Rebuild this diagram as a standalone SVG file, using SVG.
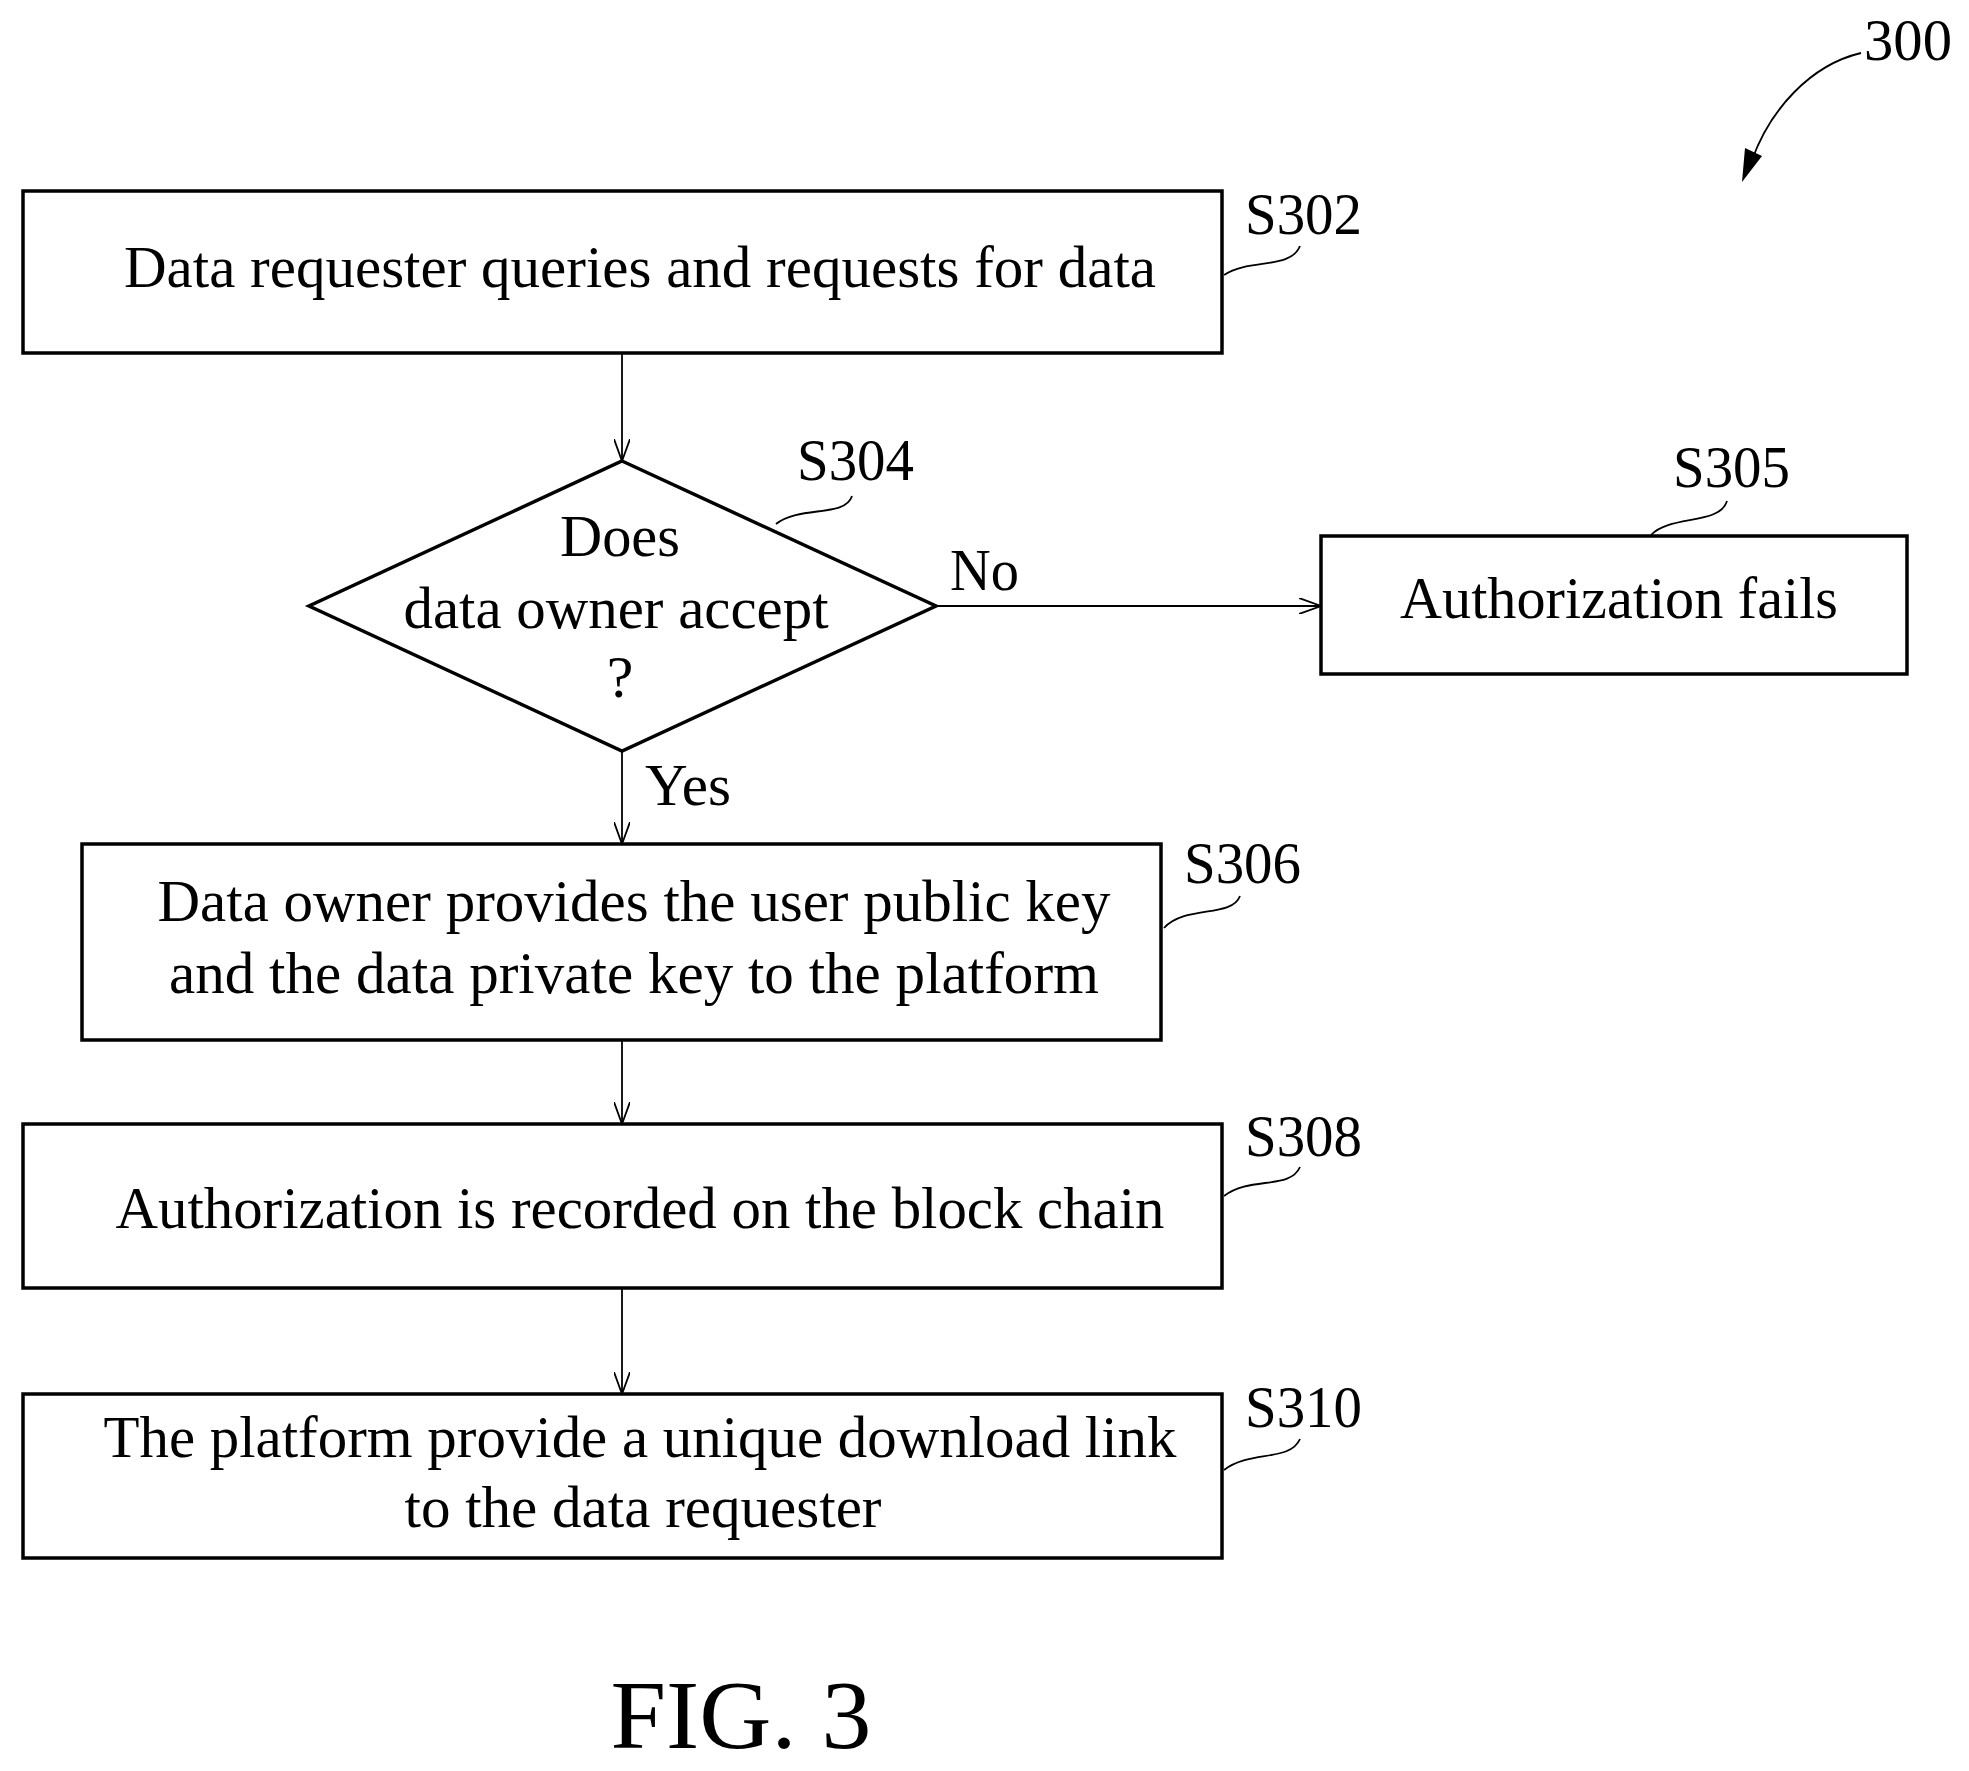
<svg xmlns="http://www.w3.org/2000/svg" width="1969" height="1771" viewBox="0 0 1969 1771">
<defs>
<style>
.b{fill:#fff;stroke:#000;stroke-width:3.5}
.l{fill:none;stroke:#000;stroke-width:1.8}
text{font-family:"Liberation Serif",serif;font-size:60px;fill:#000}
.c{text-anchor:middle}
</style>
<marker id="a" markerWidth="24" markerHeight="16" refX="22" refY="8" orient="auto" markerUnits="userSpaceOnUse"><path d="M0,0 L22,8 L0,16" fill="none" stroke="#000" stroke-width="1.8"/></marker>
</defs>
<rect width="1969" height="1771" fill="#fff"/>
<g id="connectors">
<line class="l" x1="622" y1="353" x2="622" y2="461" marker-end="url(#a)"/>
<line class="l" x1="936" y1="606" x2="1321" y2="606" marker-end="url(#a)"/>
<line class="l" x1="622" y1="751" x2="622" y2="844" marker-end="url(#a)"/>
<line class="l" x1="622" y1="1040" x2="622" y2="1124" marker-end="url(#a)"/>
<line class="l" x1="622" y1="1288" x2="622" y2="1394" marker-end="url(#a)"/>
<text x="950" y="590" textLength="69" lengthAdjust="spacingAndGlyphs">No</text>
<text x="645" y="805" textLength="86" lengthAdjust="spacingAndGlyphs">Yes</text>
<path class="l" d="M1224,275 C1250,258 1290,270 1300,246"/>
<path class="l" d="M776,524 C800,505 845,518 852,496"/>
<path class="l" d="M1651,535 C1670,515 1720,525 1727,501"/>
<path class="l" d="M1164,928 C1185,905 1232,918 1240,896"/>
<path class="l" d="M1224,1196 C1250,1176 1290,1190 1300,1167"/>
<path class="l" d="M1224,1470 C1250,1450 1290,1462 1300,1439"/>
<path class="l" d="M1861,53 C1810,65 1770,110 1752,160" stroke-width="2.5"/>
<path d="M1742,182 L1745,148 L1762,156 Z" fill="#000"/>
</g>
<g id="label300"><text x="1864" y="60" textLength="88" lengthAdjust="spacingAndGlyphs">300</text></g>
<g id="S302"><rect class="b" x="23" y="191" width="1199" height="162"/>
<text class="c" x="640" y="287" textLength="1032" lengthAdjust="spacingAndGlyphs">Data requester queries and requests for data</text>
<text x="1245" y="234" textLength="117" lengthAdjust="spacingAndGlyphs">S302</text></g>
<g id="S304"><polygon class="b" points="622,461 936,606 622,751 309,606"/>
<text class="c" x="620" y="556" textLength="120" lengthAdjust="spacingAndGlyphs">Does</text>
<text class="c" x="616" y="628" textLength="425" lengthAdjust="spacingAndGlyphs">data owner accept</text>
<text class="c" x="620" y="697">?</text>
<text x="797" y="480" textLength="117" lengthAdjust="spacingAndGlyphs">S304</text></g>
<g id="S305"><rect class="b" x="1321" y="536" width="586" height="138"/>
<text class="c" x="1619" y="618" textLength="438" lengthAdjust="spacingAndGlyphs">Authorization fails</text>
<text x="1673" y="487" textLength="117" lengthAdjust="spacingAndGlyphs">S305</text></g>
<g id="S306"><rect class="b" x="82" y="844" width="1079" height="196"/>
<text class="c" x="634" y="921" textLength="953" lengthAdjust="spacingAndGlyphs">Data owner provides the user public key</text>
<text class="c" x="634" y="993" textLength="930" lengthAdjust="spacingAndGlyphs">and the data private key to the platform</text>
<text x="1184" y="883" textLength="117" lengthAdjust="spacingAndGlyphs">S306</text></g>
<g id="S308"><rect class="b" x="23" y="1124" width="1199" height="164"/>
<text class="c" x="640" y="1228" textLength="1049" lengthAdjust="spacingAndGlyphs">Authorization is recorded on the block chain</text>
<text x="1245" y="1156" textLength="117" lengthAdjust="spacingAndGlyphs">S308</text></g>
<g id="S310"><rect class="b" x="23" y="1394" width="1199" height="164"/>
<text class="c" x="640" y="1457" textLength="1073" lengthAdjust="spacingAndGlyphs">The platform provide a unique download link</text>
<text class="c" x="643" y="1527" textLength="477" lengthAdjust="spacingAndGlyphs">to the data requester</text>
<text x="1245" y="1427" textLength="117" lengthAdjust="spacingAndGlyphs">S310</text></g>
<g id="fig"><text class="c" x="741" y="1748" style="font-size:98px" textLength="261" lengthAdjust="spacingAndGlyphs">FIG. 3</text></g>
</svg>
